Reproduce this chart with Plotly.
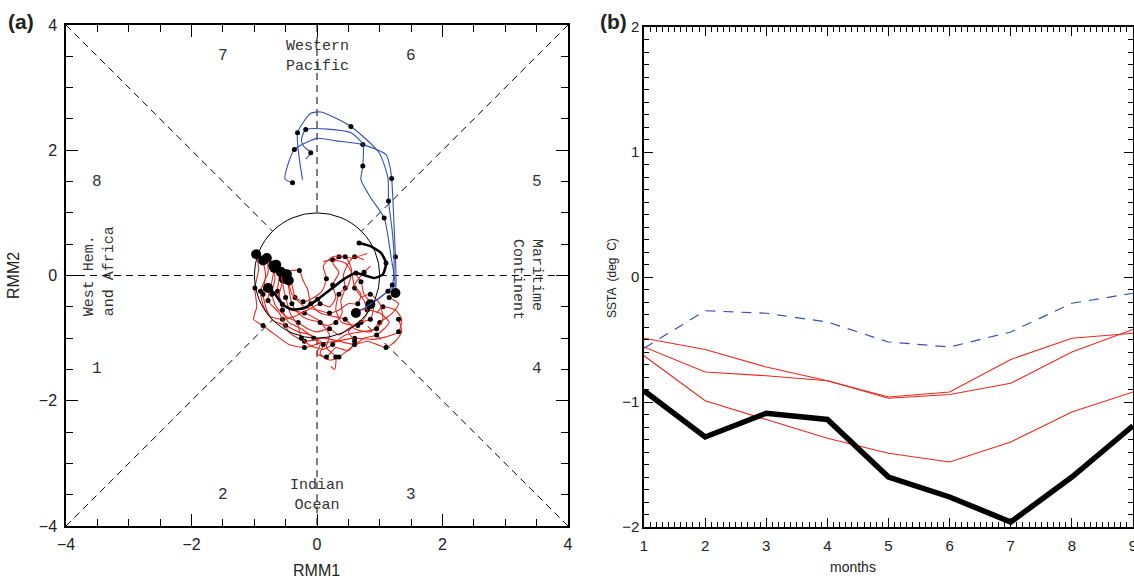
import plotly.graph_objects as go

# ---------------- Panel (b) data ----------------
months = [1, 2, 3, 4, 5, 6, 7, 8, 9]
ssta_obs = [-0.91, -1.28, -1.09, -1.14, -1.60, -1.76, -1.96, -1.60, -1.19]
ssta_blue = [-0.57, -0.27, -0.29, -0.36, -0.52, -0.56, -0.44, -0.21, -0.13]
ssta_red_a = [-0.49, -0.58, -0.72, -0.83, -0.96, -0.92, -0.66, -0.49, -0.45]
ssta_red_b = [-0.56, -0.76, -0.79, -0.83, -0.97, -0.94, -0.85, -0.60, -0.42]
ssta_red_c = [-0.63, -0.99, -1.14, -1.29, -1.41, -1.48, -1.32, -1.08, -0.92]

# ---------------- Panel (a) data (RMM1, RMM2) ----------------
black_x = [-0.78, -0.68, -0.55, -0.41, -0.20, 0.01, 0.22, 0.44, 0.62, 0.91, 1.05, 1.10, 1.02, 0.85, 0.67]
black_y = [-0.20, -0.28, -0.46, -0.54, -0.52, -0.38, -0.22, -0.05, 0.04, -0.04, 0.02, 0.20, 0.36, 0.47, 0.52]

blue_a_x = [1.25, 1.26, 1.25, 1.23, 1.21, 1.19, 1.16, 1.10, 0.73, 0.30, 0.00, -0.36, -0.47, -0.51, -0.39]
blue_a_y = [-0.28, -0.09, 0.30, 0.75, 1.20, 1.55, 1.75, 1.93, 2.09, 2.15, 2.19, 2.01, 1.75, 1.54, 1.48]
blue_b_x = [0.85, 1.05, 1.20, 1.23, 1.20, 1.14, 1.13, 0.99, 0.54, 0.06, -0.10, -0.31, -0.28, -0.23]
blue_b_y = [-0.46, -0.32, -0.15, 0.26, 0.70, 1.19, 1.56, 1.96, 2.38, 2.61, 2.59, 2.28, 1.85, 1.53]
blue_c_x = [0.62, 0.85, 1.13, 1.24, 1.18, 1.07, 0.85, 0.70, 0.73, 0.73, 0.54, -0.18, -0.25, -0.21, -0.10, -0.18]
blue_c_y = [-0.60, -0.46, -0.25, -0.17, 0.30, 0.92, 1.25, 1.53, 1.75, 2.09, 2.28, 2.33, 2.15, 2.06, 1.96, 1.86]

red_1_x = [-0.97, -0.93, -0.99, -0.96, -1.01, -0.86, -0.70, -0.45, -0.20, 0.05, 0.30, 0.60, 0.90, 1.10, 1.30, 1.35, 1.25, 1.05, 0.95]
red_1_y = [0.34, 0.10, -0.20, -0.50, -0.70, -0.80, -0.92, -1.10, -1.15, -1.08, -1.05, -1.00, -1.02, -0.98, -0.90, -0.70, -0.55, -0.50, -0.60]
red_2_x = [-0.86, -0.82, -0.86, -0.80, -0.70, -0.50, -0.30, -0.10, 0.10, 0.05, 0.20, 0.35, 0.55, 0.75, 0.95, 1.15, 1.00, 0.80, 0.60]
red_2_y = [0.24, 0.00, -0.30, -0.55, -0.72, -0.80, -0.90, -0.95, -1.10, -1.25, -1.35, -1.30, -1.15, -1.00, -0.95, -0.75, -0.60, -0.55, -0.55]
red_3_x = [-0.70, -0.67, -0.72, -0.65, -0.50, -0.30, -0.15, 0.00, 0.20, 0.35, 0.50, 0.70, 0.80, 0.75, 0.60, 0.55, 0.45, 0.25, 0.10]
red_3_y = [0.16, -0.05, -0.30, -0.50, -0.65, -0.75, -0.85, -0.90, -0.85, -0.95, -0.85, -0.75, -0.60, -0.40, -0.20, 0.05, 0.20, 0.25, 0.22]
red_4_x = [-0.65, -0.60, -0.63, -0.55, -0.40, -0.20, 0.00, 0.15, 0.30, 0.40, 0.38, 0.45, 0.42, 0.50, 0.60, 0.75]
red_4_y = [0.17, 0.00, -0.25, -0.45, -0.55, -0.60, -0.70, -0.80, -0.75, -0.60, -0.40, -0.20, 0.00, 0.20, 0.30, 0.25]
red_5_x = [-0.57, -0.47, -0.28, -0.23, -0.15, -0.10, 0.05, 0.25, 0.45, 0.60, 0.85, 1.00, 1.20, 1.30, 1.15]
red_5_y = [0.05, 0.07, 0.08, -0.06, -0.22, -0.45, -0.60, -0.65, -0.70, -0.85, -0.90, -0.75, -0.60, -0.45, -0.35]
red_6_x = [-0.53, -0.60, -0.55, -0.45, -0.25, -0.05, 0.05, 0.00, 0.15, 0.30, 0.50, 0.60, 0.50, 0.65, 0.85, 0.90, 0.75, 0.70, 0.60]
red_6_y = [-0.05, -0.30, -0.55, -0.75, -0.85, -1.00, -1.10, -1.25, -1.30, -1.15, -1.20, -1.05, -0.90, -0.75, -0.70, -0.50, -0.30, -0.10, 0.05]
red_7_x = [-0.48, -0.45, -0.40, -0.30, -0.15, 0.05, 0.20, 0.15, 0.30, 0.28, 0.22]
red_7_y = [0.02, -0.20, -0.45, -0.60, -0.70, -0.75, -0.95, -1.15, -1.30, -1.50, -1.45]
red_8_x = [-0.80, -0.78, -0.90, -0.85, -0.75, -0.55, -0.35, -0.15, 0.05, 0.20, 0.30, 0.25, 0.35, 0.25, 0.35, 0.55, 0.80]
red_8_y = [0.28, 0.05, -0.25, -0.50, -0.65, -0.70, -0.65, -0.55, -0.45, -0.50, -0.35, -0.15, 0.05, 0.20, 0.30, 0.28, 0.35]
red_9_x = [-0.68, -0.72, -0.78, -0.60, -0.45, -0.20, 0.10, 0.35, 0.60, 0.80, 0.95, 1.10, 1.25, 1.35, 1.30]
red_9_y = [0.12, -0.10, -0.40, -0.60, -0.90, -1.05, -1.00, -1.05, -1.10, -1.05, -1.10, -1.15, -1.05, -0.90, -0.70]
red_10_x = [-0.50, -0.40, -0.35, -0.20, 0.00, 0.20, 0.35, 0.50, 0.65, 0.70, 0.60, 0.75, 0.85]
red_10_y = [0.00, -0.15, -0.35, -0.50, -0.55, -0.60, -0.55, -0.45, -0.45, -0.30, -0.15, 0.05, 0.15]
red_11_x = [-0.58, -0.55, -0.50, -0.42, -0.30, -0.25, -0.10, 0.10, 0.25, 0.45, 0.70, 0.95, 1.05, 1.00, 0.85, 0.70]
red_11_y = [0.06, -0.12, -0.35, -0.62, -0.80, -1.00, -1.12, -1.18, -1.10, -0.95, -0.90, -0.85, -0.70, -0.45, -0.30, -0.35]
red_12_x = [-0.45, -0.40, -0.22, -0.05, 0.08, 0.15, 0.10, 0.25, 0.45, 0.55, 0.50, 0.35, 0.30, 0.40, 0.65]
red_12_y = [-0.08, -0.30, -0.42, -0.35, -0.25, -0.05, 0.15, 0.30, 0.30, 0.10, -0.15, -0.30, -0.55, -0.75, -0.80]

red_paths = [(red_1_x, red_1_y), (red_2_x, red_2_y), (red_3_x, red_3_y), (red_4_x, red_4_y),
             (red_5_x, red_5_y), (red_6_x, red_6_y), (red_7_x, red_7_y), (red_8_x, red_8_y),
             (red_9_x, red_9_y), (red_10_x, red_10_y), (red_11_x, red_11_y), (red_12_x, red_12_y)]
blue_paths = [(blue_a_x, blue_a_y), (blue_b_x, blue_b_y), (blue_c_x, blue_c_y)]

phase_numbers = ["1", "2", "3", "4", "5", "6", "7", "8"]
phase_x = [-3.5, -1.5, 1.5, 3.5, 3.5, 1.5, -1.5, -3.5]
phase_y = [-1.5, -3.5, -3.5, -1.5, 1.5, 3.5, 3.5, 1.5]

RED = "#e8281e"
BLUE = "#3550b2"

fig = go.Figure()

def add_path(px, py, color, width, start_big=True):
    fig.add_trace(go.Scatter(x=px, y=py, mode="lines", line=dict(color=color, width=width, shape="spline", smoothing=0.6),
                             xaxis="x", yaxis="y", showlegend=False, hoverinfo="skip"))
    fig.add_trace(go.Scatter(x=px[2::3], y=py[2::3], mode="markers", marker=dict(color="black", size=5),
                             xaxis="x", yaxis="y", showlegend=False, hoverinfo="skip"))
    if start_big:
        fig.add_trace(go.Scatter(x=px[:1], y=py[:1], mode="markers", marker=dict(color="black", size=10),
                                 xaxis="x", yaxis="y", showlegend=False, hoverinfo="skip"))

for px, py in red_paths:
    add_path(px, py, RED, 1.1)
for px, py in blue_paths:
    add_path(px, py, BLUE, 1.1)
add_path(black_x, black_y, "black", 2.6)

# Panel (b)
fig.add_trace(go.Scatter(x=months, y=ssta_blue, mode="lines", line=dict(color=BLUE, width=1.2, dash="10px,8px"),
                         xaxis="x2", yaxis="y2", showlegend=False))
for s in (ssta_red_a, ssta_red_b, ssta_red_c):
    fig.add_trace(go.Scatter(x=months, y=s, mode="lines", line=dict(color=RED, width=1.1),
                             xaxis="x2", yaxis="y2", showlegend=False))
fig.add_trace(go.Scatter(x=months, y=ssta_obs, mode="lines", line=dict(color="black", width=5.5),
                         xaxis="x2", yaxis="y2", showlegend=False))

# phase-space guides
LIM = 4
D = 0.7071
dash = dict(color="black", width=1, dash="7px,5px")
shapes = [dict(type="circle", xref="x", yref="y", x0=-1, y0=-1, x1=1, y1=1, line=dict(color="black", width=1))]
for (a, b, c, d) in [(-LIM, -LIM, -D, -D), (LIM, LIM, D, D), (-LIM, LIM, -D, D), (LIM, -LIM, D, -D),
                     (-LIM, 0, -1, 0), (1, 0, LIM, 0), (0, LIM, 0, 1), (0, -1, 0, -LIM)]:
    shapes.append(dict(type="line", xref="x", yref="y", x0=a, y0=b, x1=c, y1=d, line=dash, layer="below"))

mono = dict(family="Liberation Mono, DejaVu Sans Mono, monospace", size=15, color="#333")
ann = []
for t, x, y in zip(phase_numbers, phase_x, phase_y):
    ann.append(dict(x=x, y=y, xref="x", yref="y", text=t, showarrow=False, font=dict(mono, size=16)))

def pann(x, y, text, font, angle=0):
    return dict(x=x / 1134, y=1 - y / 579, xref="paper", yref="paper", text=text, showarrow=False,
                xanchor="center", yanchor="middle", textangle=angle, font=font)

sans = "Liberation Sans, Arial"
ann += [
    dict(x=0, y=3.5, xref="x", yref="y", text="Western<br>Pacific", showarrow=False, font=mono),
    dict(x=0, y=-3.52, xref="x", yref="y", text="Indian<br>Ocean", showarrow=False, font=mono),
    dict(x=-3.47, y=-0.68, xref="x", yref="y", text="West Hem.<br>and Africa", showarrow=False, font=mono,
         textangle=-90, yanchor="bottom", align="left"),
    dict(x=3.35, y=0.62, xref="x", yref="y", text="Maritime<br>Continent", showarrow=False, font=mono,
         textangle=90, yanchor="top", align="left"),
    pann(316, 570, "RMM1", dict(family=sans, size=16, color="#222")),
    pann(14, 276, "RMM2", dict(family=sans, size=16, color="#222"), -90),
    pann(21, 22, "<b>(a)</b>", dict(family=sans, size=21, color="#222")),
    pann(613, 21, "<b>(b)</b>", dict(family=sans, size=21, color="#222")),
    pann(853, 567, "months", dict(family="Liberation Sans Narrow, " + sans, size=14, color="#222")),
    pann(612, 278, "SSTA  (deg  C)", dict(family=sans, size=12, color="#222"), -90),
]

tickfont_a = dict(family=sans, size=16, color="#222")
tickfont_b = dict(family="Liberation Sans Narrow, " + sans, size=15, color="#222")

def axis_common(**kw):
    d = dict(showline=True, linecolor="black", linewidth=1.5, mirror="allticks", ticks="inside",
             tickcolor="black", showgrid=False, zeroline=False, automargin=False, ticklabeloverflow="allow")
    d.update(kw)
    return d

fig.update_layout(
    width=1134, height=579, margin=dict(l=0, r=0, t=0, b=0, autoexpand=False),
    plot_bgcolor="white", paper_bgcolor="white", showlegend=False,
    xaxis=axis_common(domain=[66 / 1134, 568 / 1134], range=[-4, 4], dtick=2, ticklen=12, tickwidth=1,
                      tickfont=tickfont_a, anchor="y", ticklabelstandoff=3,
                      minor=dict(dtick=0.5, ticklen=7, ticks="inside", tickcolor="black")),
    yaxis=axis_common(domain=[53 / 579, 554 / 579], range=[-4, 4], dtick=2, ticklen=12, tickwidth=1,
                      tickfont=tickfont_a, anchor="x", ticklabelstandoff=4,
                      minor=dict(dtick=0.5, ticklen=7, ticks="inside", tickcolor="black")),
    xaxis2=axis_common(domain=[644 / 1134, 1133 / 1134], range=[1, 9], dtick=1, ticklen=9, tickwidth=1,
                       tickfont=tickfont_b, anchor="y2", ticklabelstandoff=4,
                       minor=dict(dtick=0.1, ticklen=5, ticks="inside", tickcolor="black")),
    yaxis2=axis_common(domain=[52 / 579, 552 / 579], range=[-2, 2], dtick=1, ticklen=9, tickwidth=1,
                       tickfont=tickfont_b, anchor="x2",
                       minor=dict(dtick=0.1, ticklen=5, ticks="inside", tickcolor="black")),
    shapes=shapes, annotations=ann,
)

fig.write_html("out.html")
